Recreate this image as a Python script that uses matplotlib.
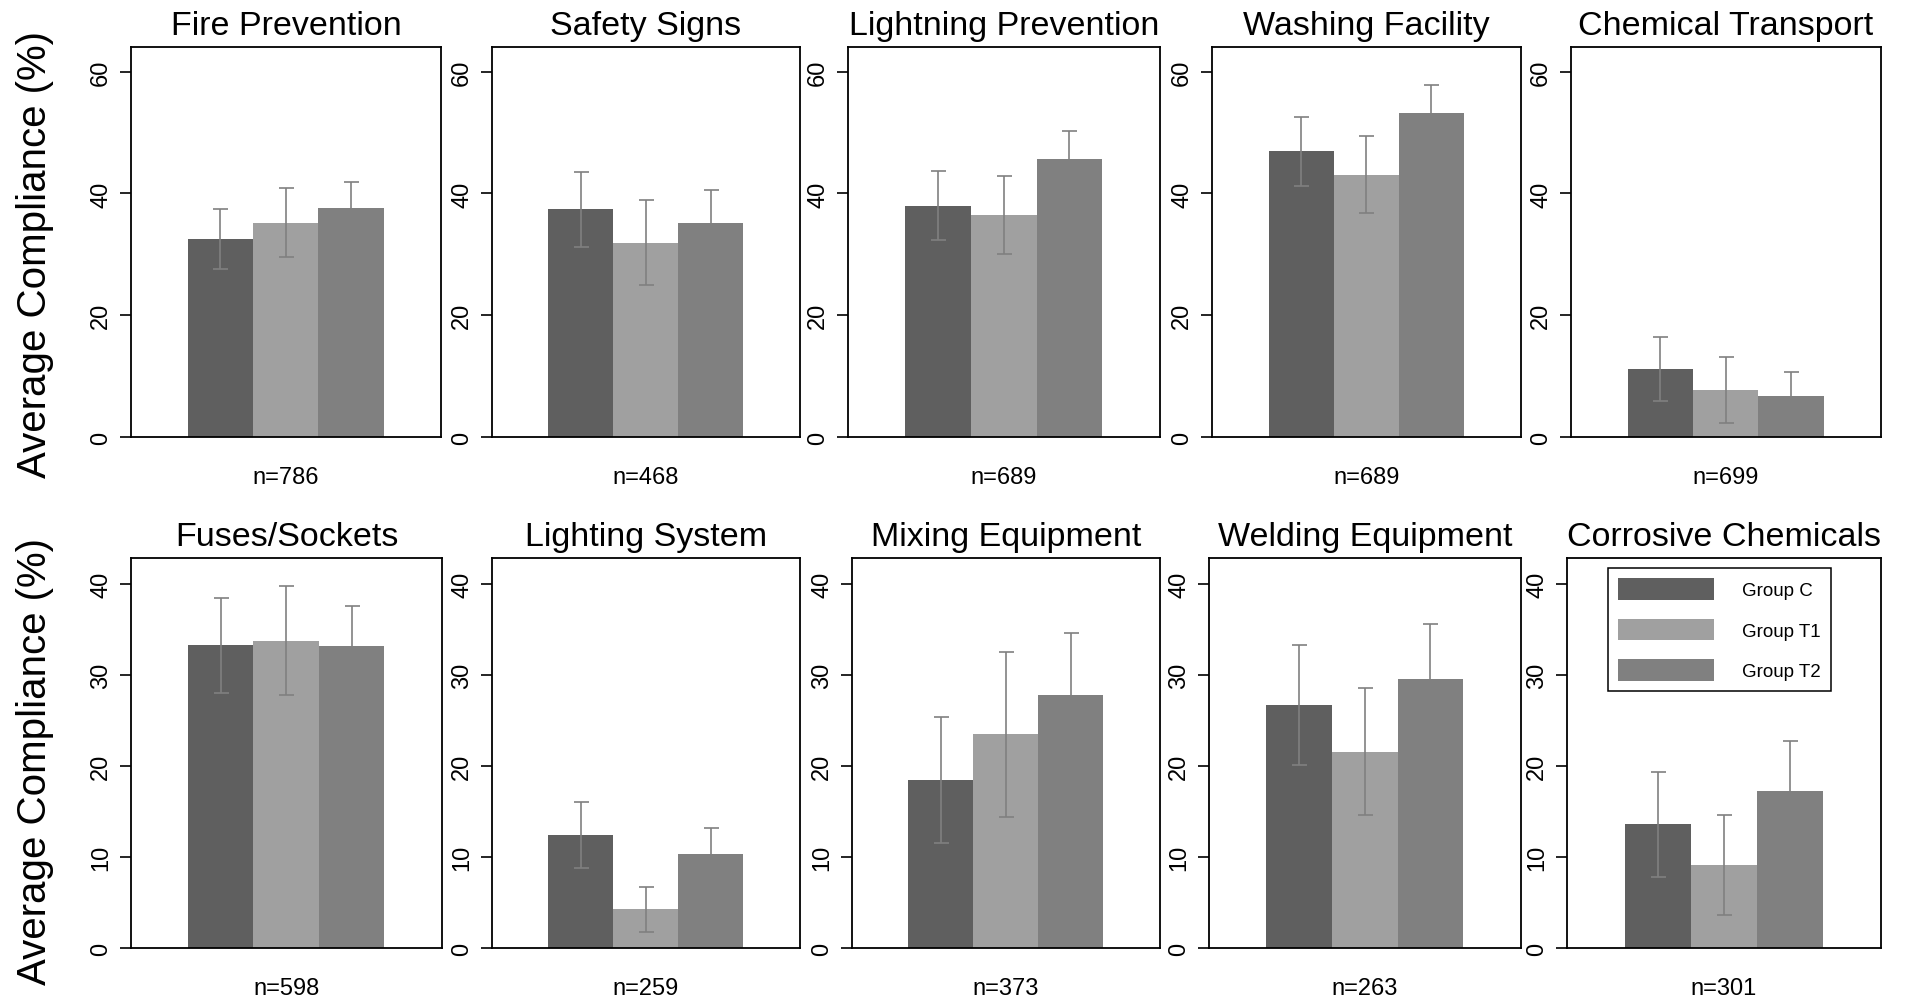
import numpy as np
import matplotlib
matplotlib.use("Agg")
import matplotlib.pyplot as plt

plt.rcParams['font.family'] = ['Liberation Sans', 'DejaVu Sans']

# data: mean compliance and half-width of error bar, order = Group C, T1, T2
groups = ['Group C', 'Group T1', 'Group T2']
colors = ['#5f5f5f', '#a0a0a0', '#808080']
err_color = '#808080'

top_titles = ['Fire Prevention', 'Safety Signs', 'Lightning Prevention',
              'Washing Facility', 'Chemical Transport']
top_n = [786, 468, 689, 689, 699]
top_means = [[32.5, 35.2, 37.6],
             [37.4, 31.9, 35.2],
             [38.0, 36.5, 45.6],
             [46.9, 43.1, 53.2],
             [11.2, 7.7, 6.8]]
top_errs = [[4.9, 5.7, 4.3],
            [6.2, 7.0, 5.4],
            [5.7, 6.4, 4.7],
            [5.6, 6.3, 4.6],
            [5.3, 5.4, 3.8]]

bot_titles = ['Fuses/Sockets', 'Lighting System', 'Mixing Equipment',
              'Welding Equipment', 'Corrosive Chemicals']
bot_n = [598, 259, 373, 263, 301]
bot_means = [[33.3, 33.8, 33.2],
             [12.45, 4.26, 10.3],
             [18.5, 23.5, 27.8],
             [26.7, 21.6, 29.6],
             [13.6, 9.1, 17.3]]
bot_errs = [[5.25, 6.0, 4.4],
            [3.65, 2.45, 2.85],
            [6.95, 9.1, 6.9],
            [6.6, 7.0, 6.0],
            [5.8, 5.5, 5.45]]

W, H = 1905, 1003
fig = plt.figure(figsize=(W / 100, H / 100), dpi=100)

# panel boxes in pixels (left, right), rows (top, bottom)
top_lr = [(131, 441), (492, 800), (848, 1160), (1212, 1521), (1571, 1881)]
bot_lr = [(131, 442), (492, 800), (852, 1160), (1209, 1521), (1567, 1881)]
top_tb = (48, 438)
bot_tb = (559, 949)


def draw_row(lr, tb, titles, ns, means, errs, ymax, yticks):
    axes = []
    for k in range(5):
        l, r = lr[k]
        t, b = tb
        ax = fig.add_axes([l / W, 1 - b / H, (r - l) / W, (b - t) / H])
        for i in range(3):
            ax.bar(i, means[k][i], width=1.0, color=colors[i], label=groups[i],
                   linewidth=0)
            ax.errorbar(i, means[k][i], yerr=errs[k][i], color=err_color,
                        elinewidth=1.2, capsize=5.4, capthick=1.2, fmt='none')
        ax.set_xlim(-1.37, 3.38)
        ax.set_ylim(0, ymax)
        ax.set_xticks([])
        ax.set_yticks(yticks)
        ax.tick_params(axis='y', length=7.6, width=1.2, pad=6, labelsize=17,
                       labelrotation=90)
        for lab in ax.get_yticklabels():
            lab.set_va('center')
        for s in ax.spines.values():
            s.set_linewidth(1.3)
        ax.set_title(titles[k], fontsize=24.5, pad=9.5)
        ax.annotate('n=%d' % ns[k], xy=(0.5, 0), xycoords='axes fraction',
                    xytext=(0, -29), textcoords='offset points',
                    ha='center', va='center', fontsize=17)
        axes.append(ax)
    return axes


draw_row(top_lr, top_tb, top_titles, top_n, top_means, top_errs, 64.06,
         [0, 20, 40, 60])
bot_axes = draw_row(bot_lr, bot_tb, bot_titles, bot_n, bot_means, bot_errs,
                    42.9, [0, 10, 20, 30, 40])

leg = bot_axes[4].legend(loc='upper left', bbox_to_anchor=(0.131, 0.974),
                         borderaxespad=0, fontsize=13.5, handlelength=5.07,
                         handleheight=1.39, labelspacing=1.0, handletextpad=1.5,
                         borderpad=0.55, fancybox=False, framealpha=1)
leg.get_frame().set_edgecolor('black')
leg.get_frame().set_linewidth(1.1)

fig.text(35 / W, 1 - 254 / H, 'Average Compliance (%)', rotation=90,
         ha='center', va='center', fontsize=29)
fig.text(35 / W, 1 - 762 / H, 'Average Compliance (%)', rotation=90,
         ha='center', va='center', fontsize=29)

fig.savefig('out.png', dpi=100)
